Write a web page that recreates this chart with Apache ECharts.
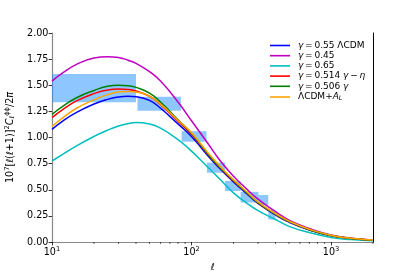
<!DOCTYPE html>
<html>
<head>
<meta charset="utf-8">
<script src="https://cdn.jsdelivr.net/npm/echarts@6/dist/echarts.min.js"></script>
<style>
html,body{margin:0;padding:0;background:#fff;}
#chart{width:415px;height:277px;}
</style>
</head>
<body>
<div id="chart"></div>
<script>
// multipole sample points
const ells = [10, 12, 15, 20, 25, 30, 35, 40, 50, 60, 80, 100, 130, 160, 200, 250, 300, 400, 500, 700, 1000, 1400, 2000];
// model curves: 10^7 [l(l+1)]^2 C_l^phiphi / 2pi
const gamma055 = [1.078, 1.16, 1.24, 1.32, 1.365, 1.388, 1.395, 1.39, 1.355, 1.28, 1.13, 1.01, 0.83, 0.70, 0.575, 0.46, 0.37, 0.26, 0.19, 0.115, 0.060, 0.033, 0.016];
const gamma045 = [1.54, 1.62, 1.70, 1.76, 1.773, 1.765, 1.74, 1.71, 1.63, 1.54, 1.34, 1.16, 0.95, 0.78, 0.63, 0.505, 0.41, 0.29, 0.21, 0.13, 0.068, 0.037, 0.019];
const gamma065 = [0.775, 0.84, 0.92, 1.01, 1.07, 1.11, 1.133, 1.143, 1.13, 1.09, 0.98, 0.87, 0.72, 0.60, 0.47, 0.37, 0.30, 0.215, 0.15, 0.09, 0.044, 0.023, 0.011];
const gamma0514 = [1.19, 1.27, 1.35, 1.42, 1.455, 1.464, 1.46, 1.445, 1.395, 1.315, 1.155, 1.03, 0.845, 0.71, 0.585, 0.468, 0.375, 0.265, 0.195, 0.118, 0.062, 0.034, 0.017];
const gamma0506 = [1.222, 1.30, 1.38, 1.45, 1.49, 1.50, 1.495, 1.48, 1.425, 1.34, 1.17, 1.04, 0.85, 0.715, 0.59, 0.47, 0.377, 0.266, 0.196, 0.118, 0.062, 0.034, 0.017];
const lcdmAL = [1.105, 1.19, 1.28, 1.36, 1.41, 1.435, 1.44, 1.435, 1.395, 1.32, 1.165, 1.045, 0.86, 0.725, 0.595, 0.478, 0.383, 0.272, 0.20, 0.122, 0.064, 0.035, 0.018];
// binned measurement boxes
const binLo = [8, 41, 85, 129, 174, 225, 302, 355];
const binHi = [40, 84, 128, 174, 225, 302, 355, 400];
const boxLo = [1.337, 1.257, 0.96, 0.663, 0.488, 0.378, 0.354, 0.215];
const boxHi = [1.608, 1.39, 1.06, 0.76, 0.584, 0.48, 0.45, 0.306];
// axis ticks
const yTicks = [0, 0.25, 0.5, 0.75, 1.0, 1.25, 1.5, 1.75, 2.0];
const minorEll = [20, 30, 40, 50, 60, 70, 80, 90, 200, 300, 400, 500, 600, 700, 800, 900, 2000];

const FONT = 'DejaVu Sans';
const FS = 9.6;
const LFS = 9;
const TS = '\u2009';

const names = ['γ = 0.55 ΛCDM', 'γ = 0.45', 'γ = 0.65', 'γ = 0.514 γ − η', 'γ = 0.506 γ', 'ΛCDM+A_L'];
const richNames = [
  '{i|γ}' + TS + '=' + TS + '0.55 ΛCDM',
  '{i|γ}' + TS + '=' + TS + '0.45',
  '{i|γ}' + TS + '=' + TS + '0.65',
  '{i|γ}' + TS + '=' + TS + '0.514 {i|γ}' + TS + '−' + TS + '{i|η}',
  '{i|γ}' + TS + '=' + TS + '0.506 {i|γ}',
  'ΛCDM+{i|A}{sub|L}'
];
const colors = ['#0000ff', '#bf00bf', '#00bfbf', '#ff0000', '#008000', '#ffa500'];
const curves = [gamma055, gamma045, gamma065, gamma0514, gamma0506, lcdmAL];

const chart = echarts.init(document.getElementById('chart'), null, {renderer: 'canvas'});

const lineSeries = curves.map((c, k) => ({
  name: names[k],
  type: 'line',
  data: ells.map((l, i) => [l, c[i]]),
  showSymbol: false,
  smooth: 0.5,
  smoothMonotone: 'none',
  lineStyle: {color: colors[k], width: 1.5},
  itemStyle: {color: colors[k]},
  z: 5,
  animation: false
}));

const boxSeries = {
  type: 'custom',
  clip: true,
  z: 2,
  data: binLo.map((lo, i) => [lo, binHi[i], boxLo[i], boxHi[i]]),
  renderItem: function (params, api) {
    const p0 = api.coord([api.value(0), api.value(3)]);
    const p1 = api.coord([api.value(1), api.value(2)]);
    const left = params.coordSys.x;
    let x0 = Math.max(p0[0], left);
    return {
      type: 'rect',
      shape: {x: x0, y: p0[1], width: p1[0] - x0, height: p1[1] - p0[1]},
      style: {fill: 'rgba(30,144,255,0.5)'}
    };
  },
  animation: false,
  silent: true
};

const minorTickSeries = {
  type: 'custom',
  clip: false,
  z: 6,
  data: minorEll.map(l => [l, 0]),
  renderItem: function (params, api) {
    const p = api.coord([api.value(0), 0]);
    return {
      type: 'line',
      shape: {x1: p[0], y1: p[1], x2: p[0], y2: p[1] + 2},
      style: {stroke: '#000', lineWidth: 0.6}
    };
  },
  animation: false,
  silent: true
};

function supExp(v) {
  const e = Math.round(Math.log10(v));
  if (Math.abs(Math.pow(10, e) - v) / v > 1e-6) return '';
  return '10{s|' + e + '}';
}

chart.setOption({
  animation: false,
  textStyle: {fontFamily: FONT},
  grid: {left: 52, right: 42, top: 33, bottom: 35, containLabel: false, outerBoundsMode: 'none'},
  legend: {
    data: names,
    orient: 'vertical',
    left: 265,
    top: 36,
    icon: 'rect',
    itemWidth: 20,
    itemHeight: 1.6,
    itemGap: 1.2,
    formatter: function (n) { return richNames[names.indexOf(n)]; },
    textStyle: {
      fontFamily: FONT, fontSize: LFS, color: '#000', lineHeight: 8, padding: [0, 0, 0, 3],
      rich: {
        i: {fontFamily: FONT, fontSize: LFS, fontStyle: 'italic', lineHeight: 8},
        sub: {fontFamily: FONT, fontSize: 6.3, fontStyle: 'italic', verticalAlign: 'bottom', lineHeight: 8, padding: [3, 0, 0, 0]}
      }
    },
    selectedMode: false
  },
  xAxis: [{
    type: 'log',
    logBase: 10,
    min: 10,
    max: 2000,
    name: 'ℓ',
    nameLocation: 'middle',
    nameGap: 20,
    nameTextStyle: {fontFamily: FONT, fontSize: FS, fontStyle: 'italic', color: '#000'},
    axisLine: {show: true, lineStyle: {color: '#000', width: 1}},
    axisTick: {show: true, length: 3.4, lineStyle: {color: '#000', width: 0.8}},
    axisLabel: {
      margin: 4,
      color: '#000',
      fontFamily: FONT,
      fontSize: FS,
      formatter: supExp,
      showMaxLabel: false,
      rich: {s: {fontFamily: FONT, fontSize: 6.7, verticalAlign: 'top', padding: [0, 0, 5, 0]}}
    },
    splitLine: {show: false},
    minorTick: {show: false}
  }, {
    type: 'log',
    logBase: 10,
    min: 10,
    max: 2000,
    position: 'top',
    axisLine: {show: true, lineStyle: {color: '#888', width: 1.2}},
    axisTick: {show: false},
    axisLabel: {show: false},
    splitLine: {show: false}
  }],
  yAxis: [{
    type: 'value',
    min: 0,
    max: 2,
    interval: 0.25,
    name: '10{sup|7}[{i|ℓ}({i|ℓ}+1)]{sup|2}{i|C}{sub|ℓ}{sup|ϕϕ}/2{i|π}',
    nameLocation: 'middle',
    nameGap: 33,
    nameTextStyle: {
      fontFamily: FONT, fontSize: FS, color: '#000', lineHeight: 12,
      rich: {
        sup: {fontFamily: FONT, fontSize: 6.7, verticalAlign: 'top', lineHeight: 12},
        sub: {fontFamily: FONT, fontSize: 6.7, fontStyle: 'italic', verticalAlign: 'bottom', lineHeight: 12},
        i: {fontFamily: FONT, fontSize: FS, fontStyle: 'italic', lineHeight: 12}
      }
    },
    axisLine: {show: true, lineStyle: {color: '#888', width: 1.2}},
    axisTick: {show: true, length: 3.4, lineStyle: {color: '#000', width: 0.8}},
    axisLabel: {
      margin: 3.6,
      color: '#000',
      fontFamily: FONT,
      fontSize: FS,
      customValues: yTicks,
      formatter: function (v) { return v.toFixed(2); }
    },
    splitLine: {show: false}
  }, {
    type: 'value',
    min: 0,
    max: 2,
    position: 'right',
    axisLine: {show: true, lineStyle: {color: '#000', width: 1}},
    axisTick: {show: false},
    axisLabel: {show: false},
    splitLine: {show: false}
  }],
  series: [boxSeries].concat(lineSeries).concat([minorTickSeries])
});
</script>
</body>
</html>
